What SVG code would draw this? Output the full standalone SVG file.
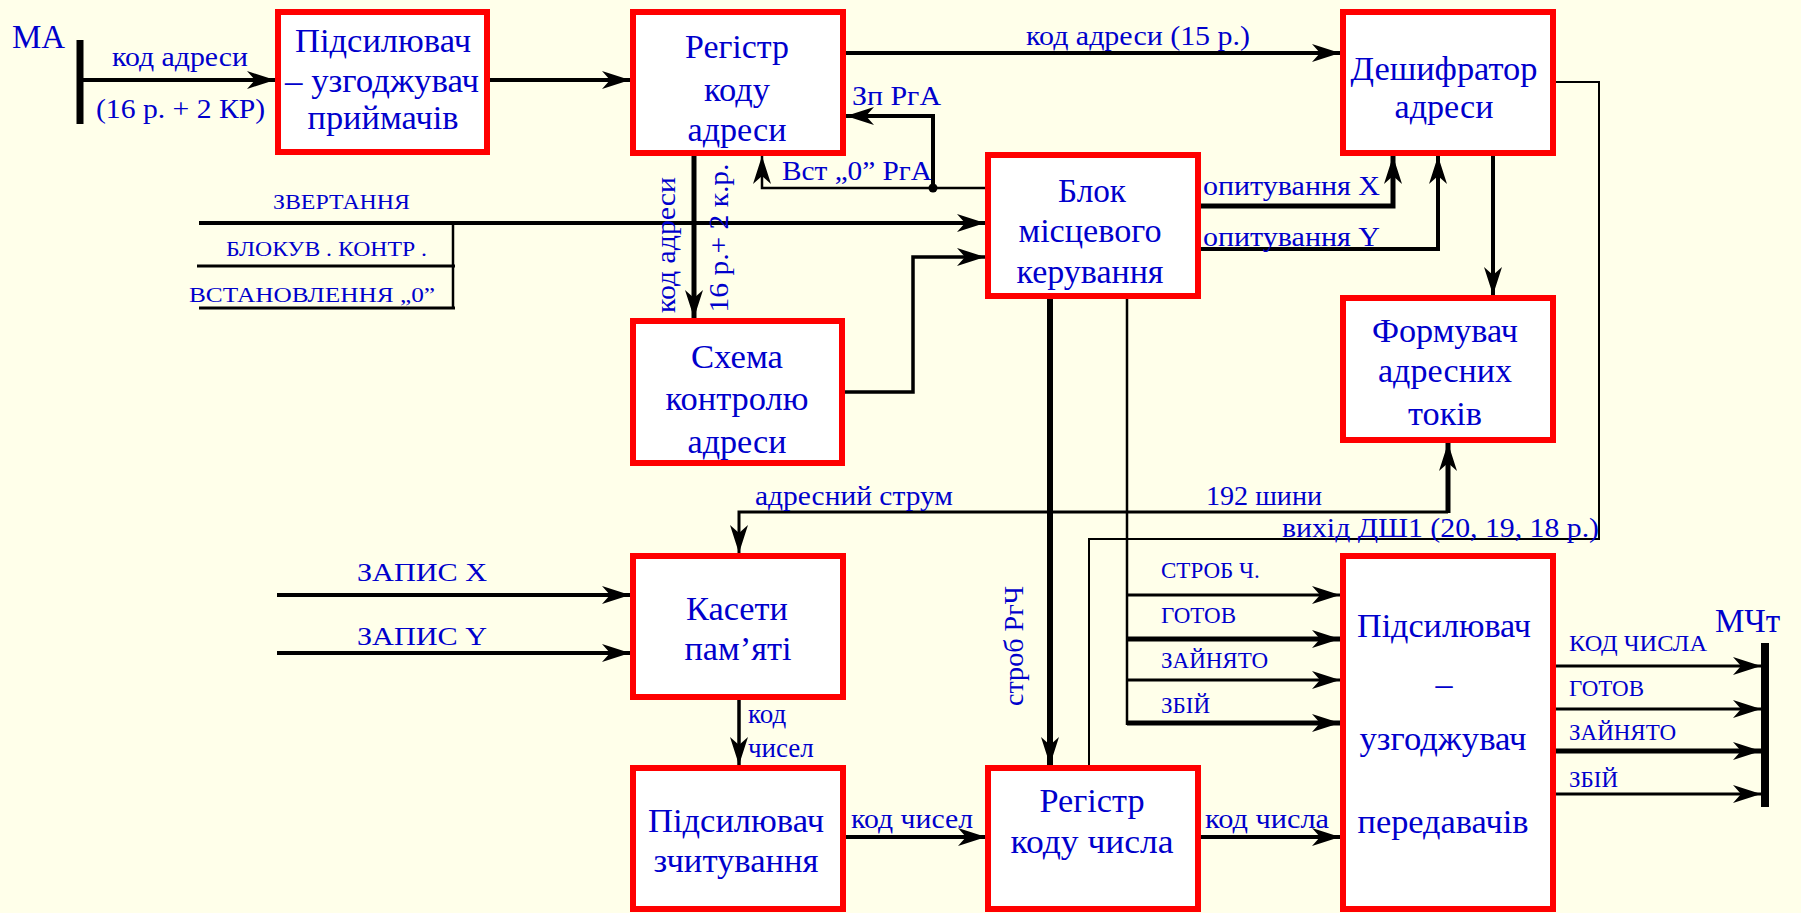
<svg xmlns="http://www.w3.org/2000/svg" width="1801" height="913" viewBox="0 0 1801 913">
<style>
.bg{fill:#FFFFEA}
.box{fill:#FFFFFF;stroke:#FF0000;stroke-width:6}
.t{font-family:"Liberation Serif","Times New Roman",serif;fill:#0000CC}
.bt{font-size:34px;text-anchor:middle}
.lb{font-size:27px}
.sm{font-size:23px}
.w{fill:none;stroke:#000;stroke-linejoin:miter;stroke-linecap:butt}
.a{marker-end:url(#arr)}
</style>
<defs>
<marker id="arr" markerUnits="userSpaceOnUse" markerWidth="30" markerHeight="20" refX="28" refY="9" orient="auto" overflow="visible">
<path d="M0,0 L28,9 L0,18 L8,9 Z" fill="#000"/>
</marker>
</defs>
<rect class="bg" x="0" y="0" width="1801" height="913"/>

<g id="connectors">
<line class="w" x1="80" y1="40" x2="80" y2="124" stroke-width="7"/>
<line class="w a" x1="80" y1="80" x2="275" y2="80" stroke-width="4"/>
<line class="w a" x1="490" y1="80" x2="630" y2="80" stroke-width="4"/>
<line class="w a" x1="846" y1="53" x2="1340" y2="53" stroke-width="4"/>
<polyline class="w a" points="933,188 933,116 846,116" stroke-width="4"/>
<polyline class="w a" points="985,188 762,188 762,156" stroke-width="2.5"/>
<circle cx="933" cy="188" r="4.5" fill="#000"/>
<line class="w a" x1="199" y1="223" x2="985" y2="223" stroke-width="4"/>
<line class="w" x1="197" y1="266" x2="455" y2="266" stroke-width="3"/>
<line class="w" x1="453" y1="223" x2="453" y2="309" stroke-width="2.5"/>
<line class="w" x1="199" y1="308" x2="455" y2="308" stroke-width="3"/>
<line class="w a" x1="694" y1="156" x2="694" y2="318" stroke-width="5"/>
<polyline class="w a" points="845,392 913,392 913,257 985,257" stroke-width="3.5"/>
<polyline class="w a" points="1201,206 1393,206 1393,156" stroke-width="5"/>
<polyline class="w a" points="1201,249 1438,249 1438,156" stroke-width="4"/>
<line class="w a" x1="1493" y1="156" x2="1493" y2="295" stroke-width="4"/>
<polyline class="w" points="1556,82 1599,82 1599,539 1089,539 1089,765" stroke-width="2"/>
<line class="w a" x1="1448" y1="513" x2="1448" y2="443" stroke-width="5"/>
<polyline class="w a" points="1448,512 739,512 739,553" stroke-width="3"/>
<line class="w a" x1="1050" y1="299" x2="1050" y2="765" stroke-width="6"/>
<line class="w" x1="1127" y1="299" x2="1127" y2="725" stroke-width="2.5"/>
<line class="w a" x1="1127" y1="595" x2="1340" y2="595" stroke-width="3"/>
<line class="w a" x1="1127" y1="639" x2="1340" y2="639" stroke-width="5"/>
<line class="w a" x1="1127" y1="680" x2="1340" y2="680" stroke-width="3"/>
<line class="w a" x1="1127" y1="723" x2="1340" y2="723" stroke-width="5"/>
<line class="w a" x1="277" y1="595" x2="630" y2="595" stroke-width="4"/>
<line class="w a" x1="277" y1="653" x2="630" y2="653" stroke-width="4"/>
<line class="w a" x1="739" y1="700" x2="739" y2="765" stroke-width="3.5"/>
<line class="w a" x1="845" y1="837" x2="986" y2="837" stroke-width="4"/>
<line class="w a" x1="1200" y1="837" x2="1340" y2="837" stroke-width="4"/>
<line class="w a" x1="1556" y1="666" x2="1761" y2="666" stroke-width="3"/>
<line class="w a" x1="1556" y1="709" x2="1761" y2="709" stroke-width="3"/>
<line class="w a" x1="1556" y1="751" x2="1761" y2="751" stroke-width="5"/>
<line class="w a" x1="1556" y1="794" x2="1761" y2="794" stroke-width="3"/>
<line class="w" x1="1765" y1="643" x2="1765" y2="807" stroke-width="8"/>
</g>

<g id="labels">
<text class="t" x="12" y="48" font-size="33">МА</text>
<text class="t lb" x="112" y="66" textLength="136" lengthAdjust="spacingAndGlyphs">код  адреси</text>
<text class="t" x="96" y="118" font-size="28" textLength="169" lengthAdjust="spacingAndGlyphs">(16 р. + 2 КР)</text>
<text class="t lb" x="1026" y="45" textLength="224" lengthAdjust="spacingAndGlyphs">код  адреси (15 р.)</text>
<text class="t lb" x="852" y="105" textLength="89" lengthAdjust="spacingAndGlyphs">Зп РгА</text>
<text class="t lb" x="782" y="180" textLength="150" lengthAdjust="spacingAndGlyphs">Вст „0” РгА</text>
<text class="t" x="273" y="209" font-size="22" textLength="137" lengthAdjust="spacingAndGlyphs">ЗВЕРТАННЯ</text>
<text class="t" x="226" y="256" font-size="22" textLength="201" lengthAdjust="spacingAndGlyphs">БЛОКУВ . КОНТР .</text>
<text class="t" x="189" y="302" font-size="22" textLength="246" lengthAdjust="spacingAndGlyphs">ВСТАНОВЛЕННЯ  „0”</text>
<text class="t lb" transform="translate(675,245) rotate(-90)" text-anchor="middle" textLength="136" lengthAdjust="spacingAndGlyphs">код адреси</text>
<text class="t lb" transform="translate(728,238) rotate(-90)" text-anchor="middle" textLength="149" lengthAdjust="spacingAndGlyphs">16 р.+ 2 к.р.</text>
<text class="t lb" x="1203" y="195" textLength="177" lengthAdjust="spacingAndGlyphs">опитування  X</text>
<text class="t lb" x="1203" y="246" textLength="177" lengthAdjust="spacingAndGlyphs">опитування  Y</text>
<text class="t lb" x="755" y="505" textLength="198" lengthAdjust="spacingAndGlyphs">адресний  струм</text>
<text class="t lb" x="1206" y="505" textLength="116" lengthAdjust="spacingAndGlyphs">192 шини</text>
<text class="t lb" x="1282" y="537" textLength="317" lengthAdjust="spacingAndGlyphs">вихід ДШ1 (20, 19, 18 р.)</text>
<text class="t lb" transform="translate(1023,646) rotate(-90)" text-anchor="middle" textLength="120" lengthAdjust="spacingAndGlyphs">строб РгЧ</text>
<text class="t sm" x="1161" y="578">СТРОБ Ч.</text>
<text class="t sm" x="1161" y="623">ГОТОВ</text>
<text class="t sm" x="1161" y="668">ЗАЙНЯТО</text>
<text class="t sm" x="1161" y="713">ЗБІЙ</text>
<text class="t" x="357" y="581" font-size="26" textLength="130" lengthAdjust="spacingAndGlyphs">ЗАПИС  X</text>
<text class="t" x="357" y="645" font-size="26" textLength="130" lengthAdjust="spacingAndGlyphs">ЗАПИС  Y</text>
<text class="t lb" x="748" y="723">код</text>
<text class="t lb" x="748" y="757">чисел</text>
<text class="t lb" x="851" y="828" textLength="122" lengthAdjust="spacingAndGlyphs">код  чисел</text>
<text class="t lb" x="1205" y="828" textLength="124" lengthAdjust="spacingAndGlyphs">код  числа</text>
<text class="t sm" x="1569" y="651" textLength="138" lengthAdjust="spacingAndGlyphs">КОД  ЧИСЛА</text>
<text class="t sm" x="1569" y="696">ГОТОВ</text>
<text class="t sm" x="1569" y="740">ЗАЙНЯТО</text>
<text class="t sm" x="1569" y="787">ЗБІЙ</text>
<text class="t" x="1715" y="632" font-size="33">МЧт</text>
</g>

<g id="n-pidsyl-pryim">
<rect class="box" x="278" y="12" width="209" height="140"/>
<text class="t bt" x="383" y="52" textLength="176" lengthAdjust="spacingAndGlyphs">Підсилювач</text>
<text class="t bt" x="382" y="92" textLength="194" lengthAdjust="spacingAndGlyphs">– узгоджувач</text>
<text class="t bt" x="383" y="129" textLength="151" lengthAdjust="spacingAndGlyphs">приймачів</text>
</g>
<g id="n-reg-adr">
<rect class="box" x="633" y="12" width="210" height="141"/>
<text class="t bt" x="737" y="58" textLength="104" lengthAdjust="spacingAndGlyphs">Регістр</text>
<text class="t bt" x="737" y="101" textLength="66" lengthAdjust="spacingAndGlyphs">коду</text>
<text class="t bt" x="737" y="141" textLength="99" lengthAdjust="spacingAndGlyphs">адреси</text>
</g>
<g id="n-deshyfr">
<rect class="box" x="1343" y="12" width="210" height="141"/>
<text class="t bt" x="1444" y="80" textLength="187" lengthAdjust="spacingAndGlyphs">Дешифратор</text>
<text class="t bt" x="1444" y="118" textLength="99" lengthAdjust="spacingAndGlyphs">адреси</text>
</g>
<g id="n-blok">
<rect class="box" x="988" y="155" width="210" height="141"/>
<text class="t bt" x="1092" y="202" textLength="68" lengthAdjust="spacingAndGlyphs">Блок</text>
<text class="t bt" x="1090" y="242" textLength="143" lengthAdjust="spacingAndGlyphs">місцевого</text>
<text class="t bt" x="1090" y="283" textLength="147" lengthAdjust="spacingAndGlyphs">керування</text>
</g>
<g id="n-skhema">
<rect class="box" x="633" y="321" width="209" height="142"/>
<text class="t bt" x="737" y="368" textLength="92" lengthAdjust="spacingAndGlyphs">Схема</text>
<text class="t bt" x="737" y="410" textLength="143" lengthAdjust="spacingAndGlyphs">контролю</text>
<text class="t bt" x="737" y="453" textLength="99" lengthAdjust="spacingAndGlyphs">адреси</text>
</g>
<g id="n-formuvach">
<rect class="box" x="1343" y="298" width="210" height="142"/>
<text class="t bt" x="1445" y="342" textLength="146" lengthAdjust="spacingAndGlyphs">Формувач</text>
<text class="t bt" x="1445" y="382" textLength="134" lengthAdjust="spacingAndGlyphs">адресних</text>
<text class="t bt" x="1445" y="425" textLength="74" lengthAdjust="spacingAndGlyphs">токів</text>
</g>
<g id="n-kaseti">
<rect class="box" x="633" y="556" width="210" height="141"/>
<text class="t bt" x="737" y="620" textLength="102" lengthAdjust="spacingAndGlyphs">Касети</text>
<text class="t bt" x="738" y="660" textLength="107" lengthAdjust="spacingAndGlyphs">пам’яті</text>
</g>
<g id="n-pidsyl-zchyt">
<rect class="box" x="633" y="768" width="210" height="141"/>
<text class="t bt" x="736" y="832" textLength="176" lengthAdjust="spacingAndGlyphs">Підсилювач</text>
<text class="t bt" x="736" y="872" textLength="165" lengthAdjust="spacingAndGlyphs">зчитування</text>
</g>
<g id="n-reg-chysla">
<rect class="box" x="988" y="768" width="210" height="141"/>
<text class="t bt" x="1092" y="812" textLength="105" lengthAdjust="spacingAndGlyphs">Регістр</text>
<text class="t bt" x="1092" y="853" textLength="163" lengthAdjust="spacingAndGlyphs">коду  числа</text>
</g>
<g id="n-pidsyl-pered">
<rect class="box" x="1343" y="556" width="210" height="353"/>
<text class="t bt" x="1444" y="637" textLength="174" lengthAdjust="spacingAndGlyphs">Підсилювач</text>
<text class="t bt" x="1444" y="695">–</text>
<text class="t bt" x="1443" y="750" textLength="167" lengthAdjust="spacingAndGlyphs">узгоджувач</text>
<text class="t bt" x="1443" y="833" textLength="171" lengthAdjust="spacingAndGlyphs">передавачів</text>
</g>
</svg>
